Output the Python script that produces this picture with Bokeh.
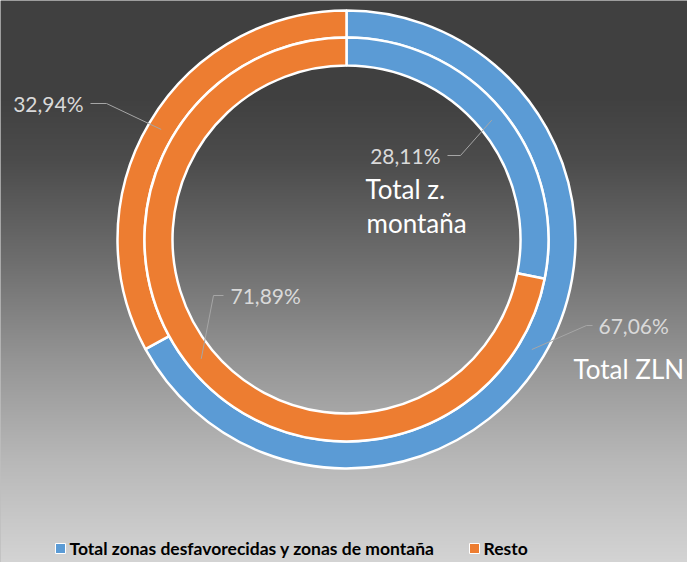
import numpy as np
from bokeh.plotting import figure
from bokeh.models import ColumnDataSource, Range1d
from bokeh.core.properties import value
from bokeh.embed import file_html
from bokeh.resources import INLINE

# ---- data ----
series = ["Total zonas desfavorecidas y zonas de montaña", "Resto"]
colors = ["#5b9bd5", "#ed7d31"]
ring_names = ["Total ZLN", "Total z.\nmontaña"]
zln_values = [67.06, 32.94]        # outer ring
montana_values = [28.11, 71.89]    # inner ring

W, H = 687, 562
CX, CY = 346, 239  # centre in figure pixels (from top-left)

p = figure(width=W, height=H, output_backend="svg", toolbar_location=None,
           x_range=Range1d(-CX, W - CX), y_range=Range1d(-(H - CY), CY),
           min_border=0, outline_line_color=None)
p.axis.visible = False
p.grid.visible = False
p.background_fill_color = "#808080"
p.border_fill_color = "#808080"

# background vertical gradient (decoration)
stopY = [0, 100, 160, 260, 360, 460, 562]
stopV = [64, 65, 76, 110, 149, 184, 212]
rows = np.arange(H)
photoY = (H - 1 - rows) + 0.5
g = np.interp(photoY, stopY, stopV).astype(np.uint8)
rgba = np.zeros((H, 1, 4), dtype=np.uint8)
rgba[:, 0, 0] = g
rgba[:, 0, 1] = g
rgba[:, 0, 2] = g
rgba[:, 0, 3] = 255
img = rgba.view(np.uint32).reshape(H, 1)
p.image_rgba(image=[img], x=-CX, y=-(H - CY), dw=W, dh=H)


def ring(vals, r_in, r_out):
    fr = np.array(vals, dtype=float) / sum(vals)
    cum = np.concatenate([[0.0], np.cumsum(fr)])
    start = np.pi / 2 - 2 * np.pi * cum[:-1]
    end = np.pi / 2 - 2 * np.pi * cum[1:]
    src = ColumnDataSource(dict(start=start, end=end, color=colors, name=series))
    p.annular_wedge(x=0, y=0, inner_radius=r_in, outer_radius=r_out,
                    start_angle="start", end_angle="end", direction="clock",
                    fill_color="color", line_color="white", line_width=2.5,
                    source=src)
    mid = (start + end) / 2
    rm = (r_in + r_out) / 2
    return rm * np.cos(mid), rm * np.sin(mid)


R_OUT, R_MID, R_IN = 229, 202, 174
ox, oy = ring(zln_values, R_MID, R_OUT)
ix, iy = ring(montana_values, R_IN, R_MID)


def fmt(v):
    return f"{v:.2f}%".replace(".", ",")


# leader lines (label anchors are layout positions)
lx = [[-256, -240, ox[1]], [101, 114, ix[0]], [246, 240, ox[0]], [-123, -133, ix[1]]]
ly = [[136, 136, oy[1]], [84, 84, iy[0]], [-86, -86, oy[0]], [-56, -56, iy[1]]]
p.multi_line(xs=lx, ys=ly, line_color="#a6a6a6", line_width=1)

font = value("Lato")
# percentage labels
p.text(x=[-263, 94], y=[136, 84], text=[fmt(zln_values[1]), fmt(montana_values[0])],
       text_align="right", text_baseline="middle", text_color="#d9d9d9",
       text_font=font, text_font_size=value("21px"))
p.text(x=[252, -116], y=[-86, -56], text=[fmt(zln_values[0]), fmt(montana_values[1])],
       text_align="left", text_baseline="middle", text_color="#d9d9d9",
       text_font=font, text_font_size=value("21px"))

# ring names
p.text(x=[19, 20], y=[51, 17], text=ring_names[1].split("\n"),
       text_align="left", text_baseline="middle", text_color="white",
       text_font=font, text_font_size=value("26px"))
p.text(x=[227], y=[-129], text=[ring_names[0]],
       text_align="left", text_baseline="middle", text_color="white",
       text_font=font, text_font_size=value("26px"))

# legend
leg_y = -309
p.scatter(x=[-286, 128], y=[leg_y, leg_y], marker="square", size=10,
          fill_color=colors, line_color="white", line_width=1)
p.text(x=[-277, 137], y=[leg_y, leg_y], text=series,
       text_align="left", text_baseline="middle", text_color="black",
       text_font=font, text_font_size=value("17.5px"), text_font_style="bold")

open("out.html", "w").write(file_html(p, INLINE))
